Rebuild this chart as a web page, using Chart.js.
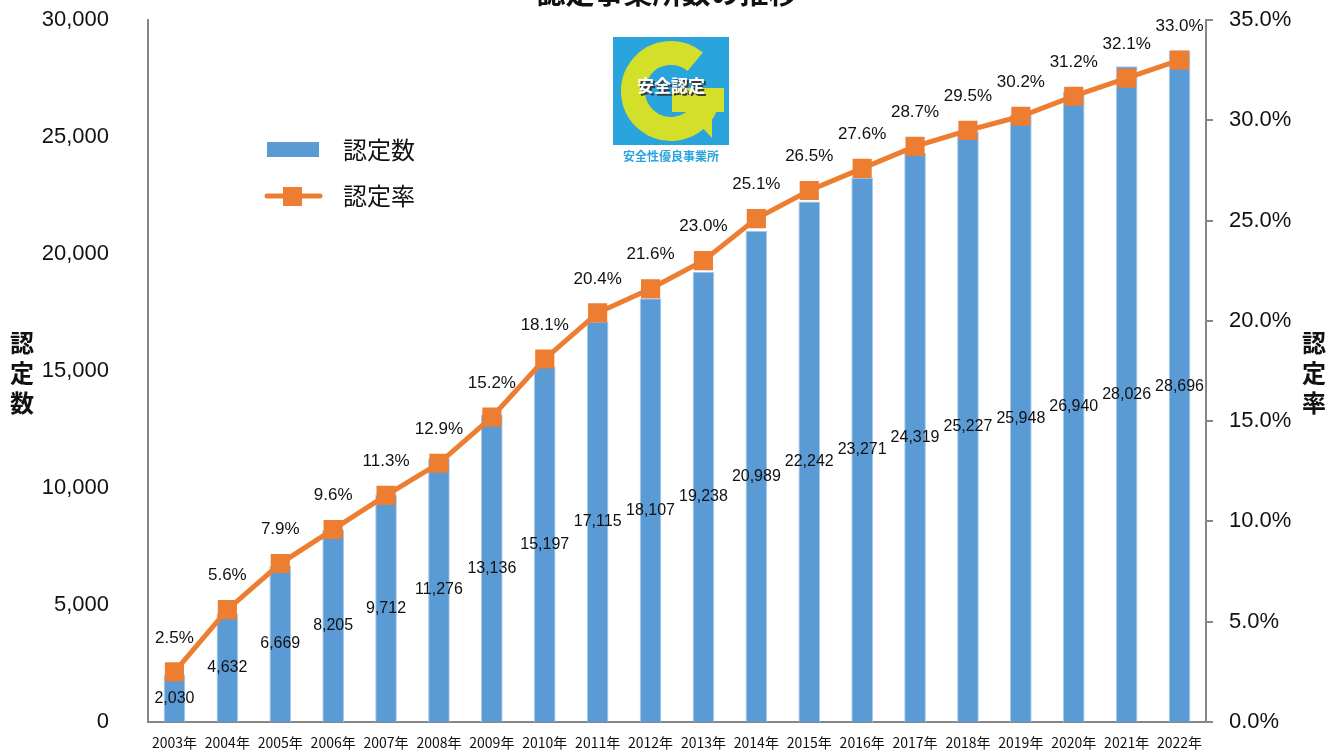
<!DOCTYPE html>
<html>
<head>
<meta charset="utf-8">
<script src="https://cdn.jsdelivr.net/npm/chart.js@4.4.0/dist/chart.umd.min.js"></script>
<style>
  html, body { margin: 0; padding: 0; background: #fff; }
  #wrap { width: 1340px; height: 753px; }
</style>
</head>
<body>
<div id="wrap"><canvas id="ninteiChart" width="1340" height="753"></canvas></div>
<script>
const years = ['2003年', '2004年', '2005年', '2006年', '2007年', '2008年', '2009年', '2010年', '2011年', '2012年',
  '2013年', '2014年', '2015年', '2016年', '2017年', '2018年', '2019年', '2020年', '2021年', '2022年'];
const ninteiSu = [2030, 4632, 6669, 8205, 9712, 11276, 13136, 15197, 17115, 18107,
  19238, 20989, 22242, 23271, 24319, 25227, 25948, 26940, 28026, 28696];
const ninteiRitsu = [2.5, 5.6, 7.9, 9.6, 11.3, 12.9, 15.2, 18.1, 20.4, 21.6,
  23.0, 25.1, 26.5, 27.6, 28.7, 29.5, 30.2, 31.2, 32.1, 33.0];
const titleText = '認定事業所数の推移';

const FONT = '"Liberation Sans", "Noto Sans CJK JP", sans-serif';
const JP = '"Noto Sans CJK JP", sans-serif';
const BLUE = '#5b9bd5';
const ORANGE = '#ed7d31';
const AXIS = '#868686';

// 軸のはみ出し余白を消して位置を固定
function fixBox(w, h) {
  return s => {
    if (w) s.width = w;
    if (h) s.height = h;
    s.paddingTop = 0;
    s.paddingBottom = 0;
    s.paddingLeft = 0;
    s.paddingRight = 0;
  };
}

// ラベル・凡例・ロゴなど
const extras = {
  id: 'extras',
  afterDatasetsDraw(chart) {
    const ctx = chart.ctx;
    ctx.save();
    ctx.fillStyle = '#111';
    ctx.textAlign = 'center';
    ctx.textBaseline = 'middle';

    // 棒のラベル（中央）
    const bars = chart.getDatasetMeta(1).data;
    ctx.font = '16px ' + FONT;
    bars.forEach((b, i) => {
      ctx.fillText(ninteiSu[i].toLocaleString('en-US'), b.x, (b.y + b.base) / 2);
    });
    // 率のラベル（上）
    const pts = chart.getDatasetMeta(0).data;
    ctx.font = '17px ' + FONT;
    pts.forEach((p, i) => {
      ctx.fillText(ninteiRitsu[i].toFixed(1) + '%', p.x, p.y - 34);
    });

    // タイトル（上端で切れている）
    ctx.font = 'bold 29px ' + JP;
    ctx.textBaseline = 'alphabetic';
    ctx.fillText(titleText, 667, 4);

    // 軸タイトル（縦書き）
    ctx.font = 'bold 24px ' + JP;
    ctx.textBaseline = 'middle';
    ['認', '定', '数'].forEach((c, i) => ctx.fillText(c, 22, 343 + i * 30));
    ['認', '定', '率'].forEach((c, i) => ctx.fillText(c, 1314, 343 + i * 30));

    // 凡例
    ctx.fillStyle = BLUE;
    ctx.fillRect(267, 142, 52, 15);
    ctx.strokeStyle = ORANGE;
    ctx.lineWidth = 5;
    ctx.lineCap = 'round';
    ctx.beginPath();
    ctx.moveTo(267, 196);
    ctx.lineTo(320, 196);
    ctx.stroke();
    ctx.fillStyle = ORANGE;
    ctx.fillRect(283, 187, 19, 19);
    ctx.fillStyle = '#111';
    ctx.font = '24px ' + JP;
    ctx.textAlign = 'left';
    ctx.fillText(chart.data.datasets[1].label, 343, 150);
    ctx.fillText(chart.data.datasets[0].label, 343, 196);

    // ロゴ
    ctx.fillStyle = '#2aa4dc';
    ctx.fillRect(613, 37, 116, 108);
    ctx.strokeStyle = '#d4df2a';
    ctx.lineWidth = 24;
    ctx.lineCap = 'butt';
    ctx.beginPath();
    ctx.arc(671, 91, 38, -0.28 * Math.PI, 0.12 * Math.PI, true);
    ctx.stroke();
    ctx.fillStyle = '#d4df2a';
    ctx.beginPath();
    ctx.moveTo(672, 88);
    ctx.lineTo(724, 88);
    ctx.lineTo(724, 112);
    ctx.lineTo(712, 112);
    ctx.lineTo(712, 138);
    ctx.lineTo(688, 112);
    ctx.lineTo(672, 112);
    ctx.closePath();
    ctx.fill();
    ctx.textAlign = 'center';
    ctx.font = 'bold 17px ' + JP;
    ctx.fillStyle = '#3a3a3a';
    ctx.fillText('安全認定', 673, 88);
    ctx.fillStyle = '#fff';
    ctx.fillText('安全認定', 671, 86);
    ctx.fillStyle = '#2aa4dc';
    ctx.font = 'bold 12px ' + JP;
    ctx.fillText('安全性優良事業所', 671, 156, 116);
    ctx.restore();
  }
};

const ctx = document.getElementById('ninteiChart').getContext('2d');
const ninteiChart = new Chart(ctx, {
  type: 'bar',
  data: {
    labels: years,
    datasets: [{
      type: 'line',
      label: '認定率',
      data: ninteiRitsu,
      yAxisID: 'yRate',
      borderColor: ORANGE,
      backgroundColor: ORANGE,
      borderWidth: 5,
      pointStyle: 'rect',
      pointRadius: 10,
      pointHoverRadius: 10,
      tension: 0,
      order: 0
    }, {
      type: 'bar',
      label: '認定数',
      data: ninteiSu,
      yAxisID: 'yCount',
      backgroundColor: BLUE,
      borderColor: '#a8c8ea',
      borderWidth: 1,
      barPercentage: 0.41,
      categoryPercentage: 1,
      order: 1
    }]
  },
  options: {
    responsive: false,
    animation: false,
    devicePixelRatio: 1,
    layout: { padding: { top: 20, left: 0, right: 0, bottom: 0 } },
    plugins: {
      legend: { display: false },
      title: { display: false },
      tooltip: { enabled: false }
    },
    scales: {
      x: {
        grid: { display: false },
        border: { display: true, color: AXIS, width: 2 },
        ticks: { color: '#111', font: { size: 14, family: JP }, padding: 4, maxRotation: 0, autoSkip: false },
        afterFit: fixBox(0, 31)
      },
      yCount: {
        position: 'left',
        min: 0,
        max: 30000,
        ticks: {
          stepSize: 5000,
          color: '#111',
          padding: 31,
          font: { size: 22, family: FONT },
          callback: v => v.toLocaleString('en-US')
        },
        grid: { display: false },
        border: { display: true, color: AXIS, width: 2 },
        afterFit: fixBox(148, 0)
      },
      yRate: {
        position: 'right',
        min: 0,
        max: 35,
        ticks: {
          stepSize: 5,
          color: '#111',
          padding: 16,
          font: { size: 22, family: FONT },
          callback: v => v.toFixed(1) + '%'
        },
        grid: { display: true, drawOnChartArea: false, drawTicks: true, tickLength: 7, color: AXIS, lineWidth: 2 },
        border: { display: true, color: AXIS, width: 2 },
        afterFit: fixBox(134, 0)
      }
    }
  },
  plugins: [extras]
});
</script>
</body>
</html>
